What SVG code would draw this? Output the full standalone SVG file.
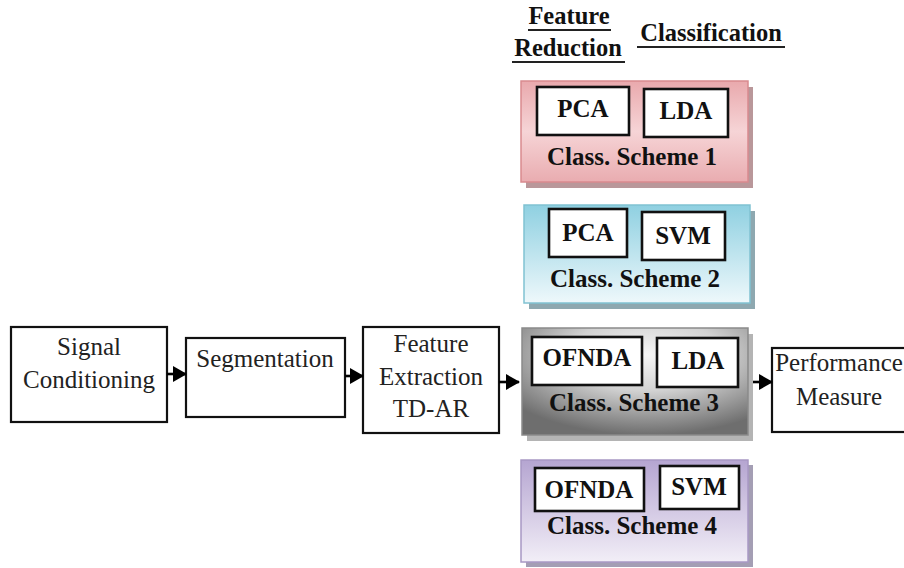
<svg xmlns="http://www.w3.org/2000/svg" width="904" height="568" viewBox="0 0 904 568">
  <defs>
    <linearGradient id="gPink" x1="0" y1="0" x2="0" y2="1">
      <stop offset="0" stop-color="#e9a9ad"/>
      <stop offset="0.5" stop-color="#f6d4d6"/>
      <stop offset="1" stop-color="#e9acb0"/>
    </linearGradient>
    <linearGradient id="gCyan" x1="0" y1="0" x2="0" y2="1">
      <stop offset="0" stop-color="#8fd0e1"/>
      <stop offset="1" stop-color="#eef8fb"/>
    </linearGradient>
    <radialGradient id="gGrey" cx="0.55" cy="0.25" r="0.75">
      <stop offset="0" stop-color="#f6f6f6"/>
      <stop offset="0.45" stop-color="#d2d2d2"/>
      <stop offset="1" stop-color="#6e6e6e"/>
    </radialGradient>
    <linearGradient id="gPurple" x1="0" y1="0" x2="0" y2="1">
      <stop offset="0" stop-color="#b5a5d1"/>
      <stop offset="1" stop-color="#f2eef7"/>
    </linearGradient>
    <marker id="arrow" markerWidth="14" markerHeight="16" refX="13" refY="8" orient="auto" markerUnits="userSpaceOnUse">
      <path d="M0,0 L14,8 L0,16 Z" fill="#000"/>
    </marker>
  </defs>
  <style>
    .box { fill: #fff; stroke: #111; stroke-width: 2.2; }
    .inner { fill: #fff; stroke: #111; stroke-width: 2.6; }
    text { font-family: 'Liberation Serif', 'DejaVu Serif', serif; text-anchor: middle; }
    .reg { font-size: 25px; fill: #222; }
    .bold { font-size: 25px; font-weight: bold; fill: #111; }
    .head { font-size: 24.5px; font-weight: bold; fill: #111; }
    .uline { stroke: #222; stroke-width: 2; }
    .link { stroke: #000; stroke-width: 2.6; fill: none; marker-end: url(#arrow); }
  </style>
  <rect width="904" height="568" fill="#fff"/>

  <!-- column headings -->
  <g id="heading-reduction">
    <text class="head" x="569" y="24">Feature</text>
    <line class="uline" x1="528" y1="30" x2="611" y2="30"/>
    <text class="head" x="568" y="56">Reduction</text>
    <line class="uline" x1="512" y1="62" x2="625" y2="62"/>
  </g>
  <g id="heading-classification">
    <text class="head" x="711" y="41">Classification</text>
    <line class="uline" x1="637" y1="47" x2="785" y2="47"/>
  </g>

  <!-- processing chain -->
  <g id="signal-conditioning">
    <rect class="box" x="11" y="327" width="156" height="95"/>
    <text class="reg" x="89" y="355">Signal</text>
    <text class="reg" x="89" y="388">Conditioning</text>
  </g>
  <g id="segmentation">
    <rect class="box" x="186" y="338" width="159" height="79"/>
    <text class="reg" x="265" y="367">Segmentation</text>
  </g>
  <g id="feature-extraction">
    <rect class="box" x="363" y="327" width="136" height="106"/>
    <text class="reg" x="431" y="352">Feature</text>
    <text class="reg" x="431" y="385">Extraction</text>
    <text class="reg" x="431" y="417">TD-AR</text>
  </g>
  <g id="performance-measure">
    <rect class="box" x="772" y="348" width="140" height="84"/>
    <text class="reg" x="839" y="371">Performance</text>
    <text class="reg" x="839" y="405">Measure</text>
  </g>

  <!-- classification schemes -->
  <g id="scheme-1">
    <rect x="526" y="87" width="227" height="101" fill="#b9979a"/>
    <rect x="521" y="81" width="227" height="101" fill="url(#gPink)" stroke="#d98a8f" stroke-width="1.5"/>
    <rect class="inner" x="537" y="87" width="92" height="48"/>
    <text class="bold" x="583" y="117">PCA</text>
    <rect class="inner" x="644" y="89" width="84" height="48"/>
    <text class="bold" x="686" y="119">LDA</text>
    <text class="bold" x="632" y="165">Class. Scheme 1</text>
  </g>
  <g id="scheme-2">
    <rect x="529" y="211" width="226" height="98" fill="#8ea8b0"/>
    <rect x="524" y="205" width="226" height="98" fill="url(#gCyan)" stroke="#80c2d2" stroke-width="1.5"/>
    <rect class="inner" x="549" y="209" width="78" height="48"/>
    <text class="bold" x="588" y="241">PCA</text>
    <rect class="inner" x="642" y="212" width="83" height="48"/>
    <text class="bold" x="683" y="244">SVM</text>
    <text class="bold" x="635" y="287">Class. Scheme 2</text>
  </g>
  <g id="scheme-3">
    <rect x="527" y="334" width="226" height="107" fill="#b4b4b4"/>
    <rect x="522" y="328" width="226" height="107" fill="url(#gGrey)" stroke="#8a8a8a" stroke-width="1.5"/>
    <rect class="inner" x="532" y="337" width="110" height="48"/>
    <text class="bold" x="587" y="366">OFNDA</text>
    <rect class="inner" x="657" y="338" width="81" height="49"/>
    <text class="bold" x="698" y="369">LDA</text>
    <text class="bold" x="634" y="411">Class. Scheme 3</text>
  </g>
  <g id="scheme-4">
    <rect x="526" y="465" width="227" height="102" fill="#a49eb4"/>
    <rect x="521" y="460" width="227" height="102" fill="url(#gPurple)" stroke="#a898c4" stroke-width="1.5"/>
    <rect class="inner" x="535" y="468" width="109" height="43"/>
    <text class="bold" x="589" y="498">OFNDA</text>
    <rect class="inner" x="660" y="466" width="79" height="43"/>
    <text class="bold" x="699" y="495">SVM</text>
    <text class="bold" x="632" y="534">Class. Scheme 4</text>
  </g>

  <!-- connectors -->
  <g id="connectors">
    <line class="link" x1="167" y1="374" x2="186" y2="374"/>
    <line class="link" x1="345" y1="376" x2="363" y2="376"/>
    <line class="link" x1="499" y1="382" x2="519" y2="382"/>
    <line class="link" x1="753" y1="382" x2="772" y2="382"/>
  </g>
</svg>
